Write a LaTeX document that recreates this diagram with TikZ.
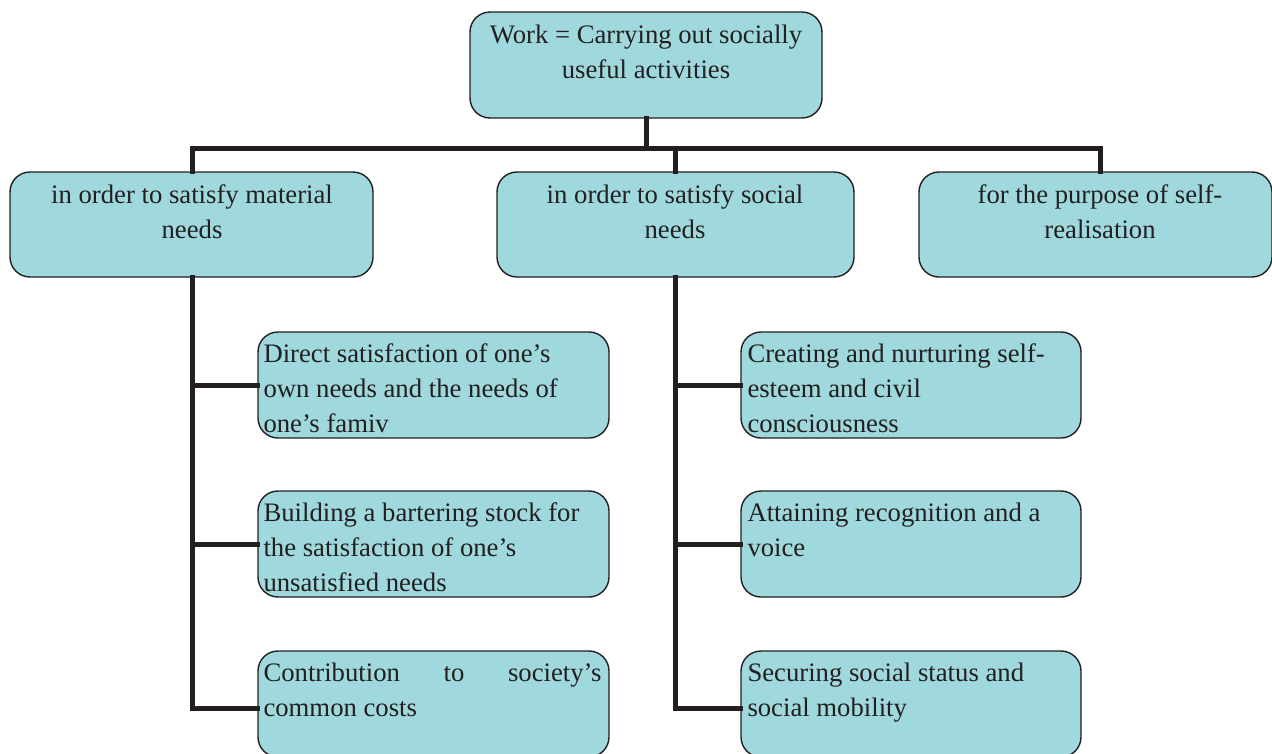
\documentclass[tikz,border=0pt]{standalone}
\usepackage{fontspec}
\setmainfont{Liberation Serif}
\definecolor{boxfill}{HTML}{9FD9DD}
\definecolor{ink}{HTML}{231F20}
\tikzset{
  box/.style={draw=ink, fill=boxfill, line width=1.4pt, rounded corners=20pt,
    inner sep=0pt, minimum height=106pt},
  conn/.style={draw=ink, line width=5pt, line cap=rect, line join=miter},
  ctext/.style={anchor=base, inner sep=0pt, text=ink, font=\fontsize{26.7}{35}\selectfont},
  ltext/.style={anchor=base west, inner sep=0pt, text=ink, font=\fontsize{26.7}{35}\selectfont},
}
\newcommand{\lines}[2]{\begin{tabular}[t]{@{}#1@{}}#2\end{tabular}}
\begin{document}
\begin{tikzpicture}[x=1pt,y=-1pt]
\useasboundingbox (0,0) rectangle (1272,753);
\fill[white] (0,0) rectangle (1272,753);

% boxes
\node[box, minimum width=352pt] (top) at (646,65) {};
\node[box, minimum width=363pt, minimum height=105pt] (la) at (191.5,224.5) {};
\node[box, minimum width=357pt, minimum height=105pt] (lb) at (675.5,224.5) {};
\node[box, minimum width=353pt, minimum height=105pt] (lc) at (1095.5,224.5) {};
\node[box, minimum width=351pt] (s1) at (433.5,385) {};
\node[box, minimum width=351pt] (s2) at (433.5,544) {};
\node[box, minimum width=351pt] (s3) at (433.5,704) {};
\node[box, minimum width=340pt] (r1) at (911,385) {};
\node[box, minimum width=340pt] (r2) at (911,544) {};
\node[box, minimum width=340pt] (r3) at (911,704) {};

% texts
\node[ctext] (ttop) at (646,43) {\lines{c}{Work = Carrying out socially\\useful activities}};
\node[ctext] (tla) at (192,203) {\lines{c}{in order to satisfy material\\needs}};
\node[ctext] (tlb) at (675,203) {\lines{c}{in order to satisfy social\\needs}};
\node[ctext] (tlc) at (1100,203) {\lines{c}{for the purpose of self-\\realisation}};
\begin{scope}
  \clip ([xshift=2pt]s1.north west) rectangle ([yshift=-6pt]s1.south east);
  \node[ltext] (ts1) at ([xshift=6pt,yshift=-31pt]s1.north west) {\lines{l}{Direct satisfaction of one’s\\own needs and the needs of\\one’s famiv}};
\end{scope}
\node[ltext] (ts2) at ([xshift=6pt,yshift=-31pt]s2.north west) {\lines{l}{Building a bartering stock for\\the satisfaction of one’s\\unsatisfied needs}};
\node[ltext] (ts3) at ([xshift=6pt,yshift=-31pt]s3.north west) {\lines{l}{\makebox[338pt][s]{Contribution to society’s}\\common costs}};
\begin{scope}
  \clip ([xshift=2pt]r1.north west) rectangle ([yshift=-6pt]r1.south east);
  \node[ltext] (tr1) at ([xshift=7pt,yshift=-31pt]r1.north west) {\lines{l}{Creating and nurturing self-\\esteem and civil\\consciousness}};
\end{scope}
\node[ltext] (tr2) at ([xshift=7pt,yshift=-31pt]r2.north west) {\lines{l}{Attaining recognition and a\\voice}};
\node[ltext] (tr3) at ([xshift=7pt,yshift=-31pt]r3.north west) {\lines{l}{Securing social status and\\social mobility}};

% connectors
\coordinate (busL) at (192,148);
\coordinate (busR) at (1100,148);
\draw[conn] (top.south) -- (top.south |- busL);
\draw[conn] ([xshift=0.5pt]la.north) -- (busL) -- (busR) -- (busR |- lc.north);
\draw[conn] (lb.north) -- (lb.north |- busL);
\draw[conn] ([xshift=0.5pt]la.south) |- ([yshift=-4pt]s3.west);
\draw[conn] ([xshift=0.5pt]la.south |- s1.west) -- (s1.west);
\draw[conn] ([xshift=0.5pt]la.south |- s2.west) -- (s2.west);
\draw[conn] (lb.south) |- ([yshift=-4pt]r3.west);
\draw[conn] (lb.south |- r1.west) -- (r1.west);
\draw[conn] (lb.south |- r2.west) -- (r2.west);
\end{tikzpicture}
\end{document}
